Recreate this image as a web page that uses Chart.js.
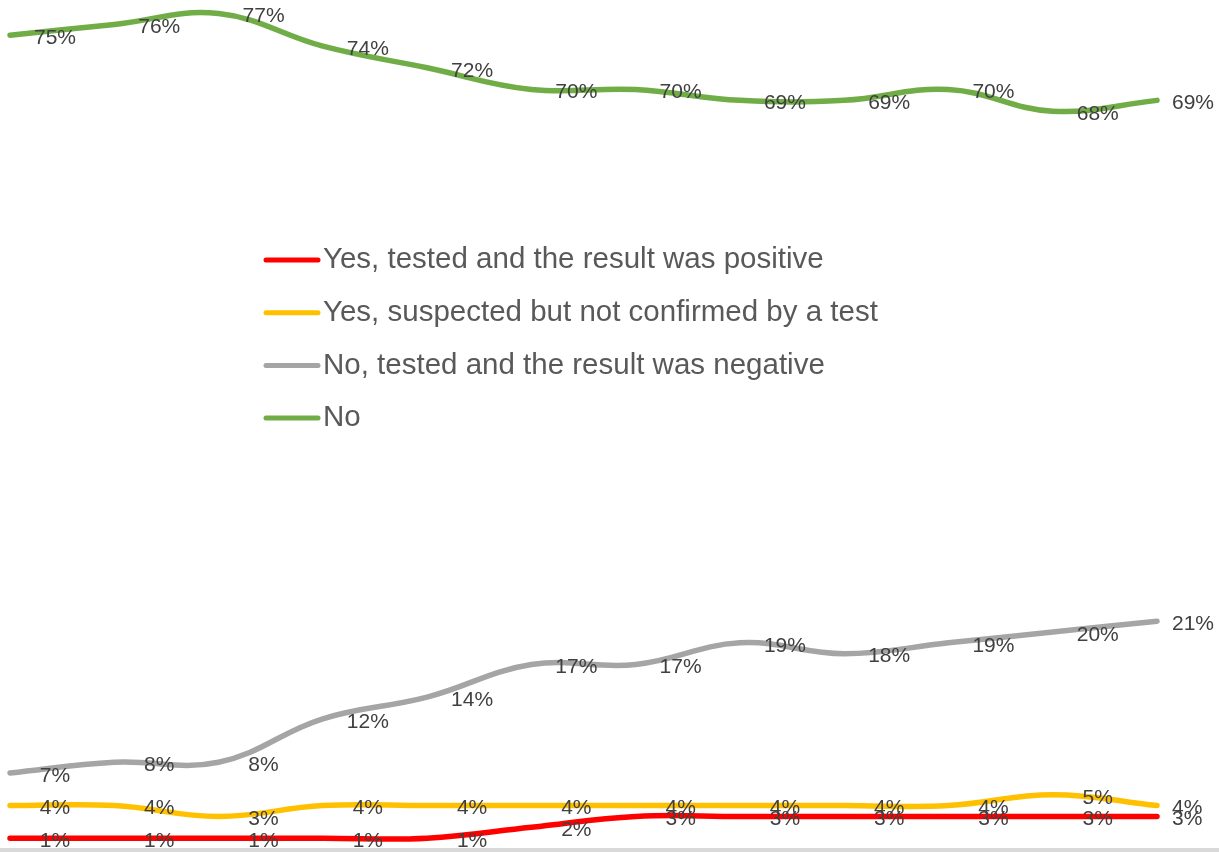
<!DOCTYPE html>
<html>
<head>
<meta charset="utf-8">
<script src="https://cdn.jsdelivr.net/npm/chart.js"></script>
<style>
  html, body { margin: 0; padding: 0; background: #fff; }
  #wrap { position: relative; width: 1219px; height: 852px; }
</style>
</head>
<body>
<div id="wrap"><canvas id="chart"></canvas></div>
<script>
const waves = ["W1", "W2", "W3", "W4", "W5", "W6", "W7", "W8", "W9", "W10", "W11", "W12"];
const positiveTest = [1, 1, 1, 1, 1, 2, 3, 3, 3, 3, 3, 3];
const suspected = [4, 4, 3, 4, 4, 4, 4, 4, 4, 4, 5, 4];
const negativeTest = [7, 8, 8, 12, 14, 17, 17, 19, 18, 19, 20, 21];
const noCovid = [75, 76, 77, 74, 72, 70, 70, 69, 69, 70, 68, 69];
const seriesNames = [
  "Yes, tested and the result was positive",
  "Yes, suspected but not confirmed by a test",
  "No, tested and the result was negative",
  "No",
];
const seriesColors = ["#FF0000", "#FFC000", "#A5A5A5", "#70AD47"];

const FONT = '"Liberation Sans", Arial, sans-serif';

// labels sit a bit right of each point, the last one starts right of the line end
const POINT_LABELS = {
  id: "pointLabels",
  afterDatasetsDraw(chart) {
    const ctx = chart.ctx;
    ctx.save();
    ctx.font = "21px " + FONT;
    ctx.fillStyle = "#404040";
    ctx.textBaseline = "middle";
    chart.data.datasets.forEach((ds, di) => {
      const meta = chart.getDatasetMeta(di);
      meta.data.forEach((pt, i) => {
        const text = ds.data[i] + "%";
        if (i === meta.data.length - 1) {
          ctx.textAlign = "left";
          ctx.fillText(text, pt.x + 15, pt.y + 3);
        } else {
          ctx.textAlign = "center";
          ctx.fillText(text, pt.x + 45, pt.y + 3);
        }
      });
    });
    ctx.restore();
  },
};

const INNER_LEGEND = {
  id: "innerLegend",
  afterDraw(chart) {
    const ctx = chart.ctx;
    ctx.save();
    ctx.font = "29.5px " + FONT;
    ctx.textBaseline = "middle";
    ctx.textAlign = "left";
    chart.data.datasets.forEach((ds, i) => {
      const y = 260 + i * 52.7;
      ctx.beginPath();
      ctx.moveTo(266, y);
      ctx.lineTo(318, y);
      ctx.lineWidth = 5;
      ctx.lineCap = "round";
      ctx.strokeStyle = ds.borderColor;
      ctx.stroke();
      ctx.fillStyle = "#595959";
      ctx.fillText(ds.label, 323, y);
    });
    // light grey band along the bottom edge
    ctx.fillStyle = "#D9D9D9";
    ctx.fillRect(0, 848, chart.width, 4);
    ctx.restore();
  },
};

const datasets = [positiveTest, suspected, negativeTest, noCovid].map((values, i) => ({
  label: seriesNames[i],
  data: values,
  borderColor: seriesColors[i],
  backgroundColor: seriesColors[i],
  borderWidth: 5.5,
  borderCapStyle: "round",
  pointRadius: 0,
  tension: 0.4,
  clip: false,
}));

new Chart(document.getElementById("chart"), {
  type: "line",
  data: { labels: waves, datasets },
  options: {
    responsive: true,
    maintainAspectRatio: false,
    animation: false,
    layout: { padding: { left: 10, right: 62, top: 0, bottom: 3 } },
    scales: {
      x: { display: false, offset: false },
      y: { display: false, min: 0, max: 78.25 },
    },
    plugins: {
      legend: { display: false },
      tooltip: { enabled: false },
    },
  },
  plugins: [POINT_LABELS, INNER_LEGEND],
});
</script>
</body>
</html>
